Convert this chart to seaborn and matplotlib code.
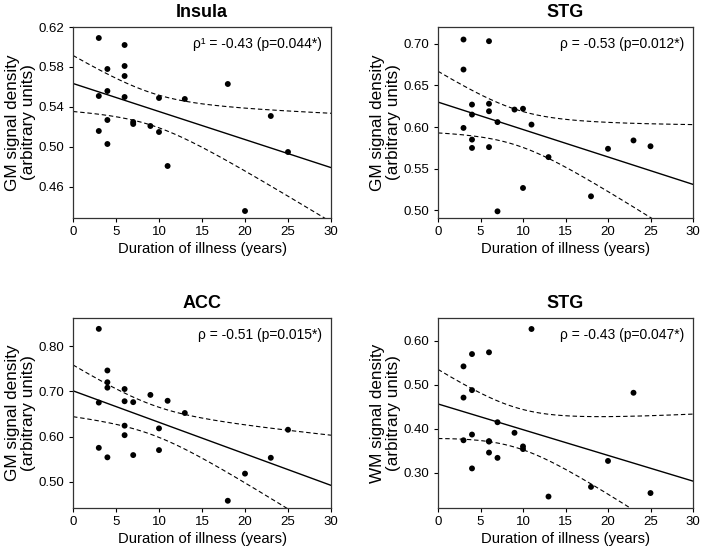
import numpy as np
import pandas as pd
import seaborn as sns
import matplotlib
matplotlib.use("Agg")
import matplotlib.pyplot as plt
from matplotlib.ticker import FormatStrFormatter

sns.set_theme(style="white")
plt.rcParams['font.family'] = ['Liberation Sans', 'DejaVu Sans']

# ---------------- data ----------------
insula_x = [3, 4, 6, 6, 6, 3, 4, 6, 10, 13, 18, 4, 7, 7, 9, 3, 10, 4, 11, 23, 25, 20]
insula_y = [0.609, 0.578, 0.602, 0.581, 0.571, 0.551, 0.556, 0.550, 0.549, 0.548, 0.563,
            0.527, 0.525, 0.523, 0.521, 0.516, 0.515, 0.503, 0.481, 0.531, 0.495, 0.436]

stg_gm_x = [3, 6, 3, 4, 6, 6, 4, 9, 10, 7, 11, 3, 4, 4, 6, 13, 20, 23, 25, 10, 18, 7]
stg_gm_y = [0.705, 0.703, 0.669, 0.627, 0.628, 0.619, 0.615, 0.621, 0.622, 0.606, 0.603,
            0.599, 0.585, 0.575, 0.576, 0.564, 0.574, 0.584, 0.577, 0.527, 0.517, 0.499]

acc_x = [3, 4, 4, 4, 6, 3, 6, 7, 9, 11, 13, 6, 6, 10, 25, 3, 10, 4, 7, 23, 20, 18]
acc_y = [0.838, 0.746, 0.720, 0.708, 0.705, 0.675, 0.678, 0.676, 0.692, 0.679, 0.652,
         0.624, 0.603, 0.618, 0.615, 0.575, 0.570, 0.554, 0.559, 0.553, 0.518, 0.458]

stg_wm_x = [11, 6, 4, 3, 4, 3, 23, 7, 9, 4, 3, 6, 6, 6, 7, 10, 10, 4, 20, 18, 13, 25]
stg_wm_y = [0.627, 0.574, 0.570, 0.542, 0.488, 0.471, 0.482, 0.415, 0.391, 0.387, 0.374,
            0.371, 0.372, 0.346, 0.334, 0.360, 0.354, 0.310, 0.327, 0.268, 0.246, 0.254]

titles = ["Insula", "STG", "ACC", "STG"]
ylabels = ["GM signal density\n(arbitrary units)", "GM signal density\n(arbitrary units)",
           "GM signal density\n(arbitrary units)", "WM signal density\n(arbitrary units)"]
annotations = ["\u03c1\u00b9 = -0.43 (p=0.044*)", "\u03c1 = -0.53 (p=0.012*)",
               "\u03c1 = -0.51 (p=0.015*)", "\u03c1 = -0.43 (p=0.047*)"]
x_ticks = [0, 5, 10, 15, 20, 25, 30]
y_ticks = [[0.46, 0.50, 0.54, 0.58, 0.62],
           [0.50, 0.55, 0.60, 0.65, 0.70],
           [0.50, 0.60, 0.70, 0.80],
           [0.30, 0.40, 0.50, 0.60]]
y_lims = [(0.429, 0.62), (0.491, 0.720), (0.442, 0.862), (0.220, 0.652)]
xlabel = "Duration of illness (years)"

datasets = [(insula_x, insula_y), (stg_gm_x, stg_gm_y), (acc_x, acc_y), (stg_wm_x, stg_wm_y)]

# ---------------- layout ----------------
W, H = 703, 553
fig = plt.figure(figsize=(W / 100, H / 100), dpi=100)
boxes = [(73, 27, 331, 218), (438, 27, 693, 218), (73, 318, 331, 508), (438, 318, 693, 508)]

T_975_DF20 = 2.086  # two-sided 95% t quantile for n-2 = 20 dof

for i, ((xs, ys), box) in enumerate(zip(datasets, boxes)):
    l, t, r, b = box
    ax = fig.add_axes([l / W, 1 - b / H, (r - l) / W, (b - t) / H])
    df = pd.DataFrame({"x": xs, "y": ys})
    ax.set_xlim(0, 30)
    ax.set_ylim(*y_lims[i])

    sns.scatterplot(data=df, x="x", y="y", ax=ax, color="black", s=18,
                    edgecolor="none", zorder=3)

    # OLS fit and 95% confidence band for the mean
    x = np.asarray(xs, float)
    y = np.asarray(ys, float)
    n = len(x)
    slope, intercept = np.polyfit(x, y, 1)
    resid = y - (slope * x + intercept)
    s_err = np.sqrt(np.sum(resid ** 2) / (n - 2))
    xbar = x.mean()
    sxx = np.sum((x - xbar) ** 2)
    gx = np.linspace(0, 30, 200)
    gy = slope * gx + intercept
    half = T_975_DF20 * s_err * np.sqrt(1 / n + (gx - xbar) ** 2 / sxx)
    sns.lineplot(x=gx, y=gy, ax=ax, color="black", linewidth=1.0, zorder=2)
    ax.plot(gx, gy + half, color="black", linewidth=0.8, linestyle=(0, (4, 2.5)), zorder=2)
    ax.plot(gx, gy - half, color="black", linewidth=0.8, linestyle=(0, (4, 2.5)), zorder=2)

    ax.set_xticks(x_ticks)
    ax.set_yticks(y_ticks[i])
    ax.yaxis.set_major_formatter(FormatStrFormatter("%.2f"))
    ax.tick_params(axis="both", direction="out", length=3, width=0.8, labelsize=9.5,
                   colors="black", bottom=True, left=True, pad=3)
    for sp in ax.spines.values():
        sp.set_color("#333333")
        sp.set_linewidth(0.9)
    ax.set_xlabel(xlabel, fontsize=10.7, color="black", labelpad=3)
    ax.set_ylabel(ylabels[i], fontsize=12.3, color="black", labelpad=2, linespacing=1.12)
    ax.set_title(titles[i], fontsize=13, fontweight="bold", color="black", pad=7)
    ax.text(0.965, 0.91, annotations[i], transform=ax.transAxes, ha="right", va="center",
            fontsize=10, color="black")
    ax.grid(False)

fig.savefig("out.png", dpi=100)
